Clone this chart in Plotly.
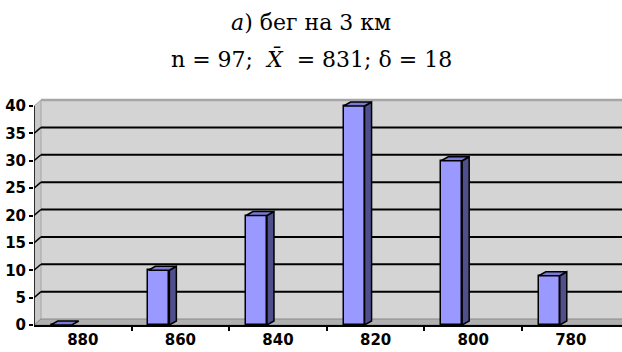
import plotly.graph_objects as go

categories = ["880", "860", "840", "820", "800", "780"]
values = [0, 10, 20, 40, 30, 9]
y_ticks = [0, 5, 10, 15, 20, 25, 30, 35, 40]
title_line1 = "<i>а</i>) бег на 3 км"
title_line2 = "n = 97;  <i>X\u0304</i>  = 831; δ = 18"

W, H = 622, 352
L, R, T, B = 34, 0, 97, 27
px_x = 97.6            # pixels per category
px_y = 5.475           # pixels per unit
plot_w = W - L - R
plot_h = H - T - B
x0 = -0.5
x1 = x0 + plot_w / px_x
y0 = 0.0
y1 = plot_h / px_y

dxw, dyw = 7 / px_x, 6 / px_y      # back wall depth
dxb, dyb = 7 / px_x, 4 / px_y      # bar depth
bar_off, bar_w = -0.328, 0.215

FRONT = "#9999ff"
SIDE = "#4f4f8c"
TOP = "#7a7ad6"
SERIF = "DejaVu Serif"
SANS = "DejaVu Sans"

fig = go.Figure()
shapes = []
# back wall
shapes.append(dict(type="rect", xref="x", yref="y", x0=x0 + dxw, x1=x1 + 1, y0=dyw, y1=40 + dyw,
                   fillcolor="#d4d4d4", line=dict(width=0), layer="below"))
# top border of back wall
shapes.append(dict(type="line", xref="x", yref="y", x0=x0 + dxw, x1=x1 + 1, y0=40 + dyw, y1=40 + dyw,
                   line=dict(color="#a6a6a6", width=2.5), layer="below"))
# left side wall
shapes.append(dict(type="path", xref="x", yref="y",
                   path=f"M {x0},{0} L {x0},{40} L {x0+dxw},{40+dyw} L {x0+dxw},{dyw} Z",
                   fillcolor="#c8c8c8", line=dict(color="#a6a6a6", width=1), layer="below"))
# floor
shapes.append(dict(type="path", xref="x", yref="y",
                   path=f"M {x0},{0} L {x1+1},{0} L {x1+1+dxw},{dyw} L {x0+dxw},{dyw} Z",
                   fillcolor="#b0b0b0", line=dict(color="#8a8a8a", width=1), layer="below"))
# gridlines on back wall and side wall
for v in y_ticks[1:-1]:
    shapes.append(dict(type="line", xref="x", yref="y", x0=x0 + dxw, x1=x1 + 1, y0=v + dyw, y1=v + dyw,
                       line=dict(color="black", width=2), layer="below"))
    shapes.append(dict(type="line", xref="x", yref="y", x0=x0, x1=x0 + dxw, y0=v, y1=v + dyw,
                       line=dict(color="black", width=1.5), layer="below"))
# y axis line
shapes.append(dict(type="line", xref="x", yref="y", x0=x0, x1=x0, y0=0, y1=40,
                   line=dict(color="black", width=1.5), layer="above"))

# bar front faces
idx = list(range(len(categories)))
fig.add_trace(go.Bar(x=idx, y=values, width=bar_w, offset=bar_off,
                     marker=dict(color=FRONT, line=dict(color="black", width=1.5)),
                     hoverinfo="skip", showlegend=False))
# side and top faces
for i, v in zip(idx, values):
    l = i + bar_off
    r = l + bar_w
    if v > 0:
        fig.add_trace(go.Scatter(x=[r, r + dxb, r + dxb, r, r], y=[0, dyb, v + dyb, v, 0],
                                 fill="toself", fillcolor=SIDE, mode="lines",
                                 line=dict(color="black", width=1.5), hoverinfo="skip", showlegend=False))
    fig.add_trace(go.Scatter(x=[l, r, r + dxb, l + dxb, l], y=[v, v, v + dyb, v + dyb, v],
                             fill="toself", fillcolor=TOP, mode="lines",
                             line=dict(color="black", width=1.5), hoverinfo="skip", showlegend=False))

def py_to_paper(py):
    return (H - B - py) / plot_h

fig.add_annotation(text=title_line1, xref="paper", yref="paper", x=(W / 2 - L) / plot_w, y=py_to_paper(22),
                   showarrow=False, xanchor="center", yanchor="middle",
                   font=dict(family=SERIF, size=22, color="black"))
fig.add_annotation(text=title_line2, xref="paper", yref="paper", x=(W / 2 - L) / plot_w, y=py_to_paper(59),
                   showarrow=False, xanchor="center", yanchor="middle",
                   font=dict(family=SERIF, size=22, color="black"))

fig.update_layout(
    width=W, height=H, margin=dict(l=L, r=R, t=T, b=B),
    paper_bgcolor="white", plot_bgcolor="white", template="none",
    shapes=shapes, showlegend=False, bargap=0,
    xaxis=dict(range=[x0, x1], tickmode="array", tickvals=idx, ticktext=categories,
               ticks="", showgrid=False, zeroline=False, showline=True, linecolor="black", linewidth=1.5,
               automargin=False, fixedrange=True,
               tickfont=dict(family=SANS, size=15, color="black", weight="bold"),
               minor=dict(tickmode="array", tickvals=[k + 0.5 for k in idx[:-1]], ticks="outside",
                          ticklen=4, tickwidth=1.5, tickcolor="black", showgrid=False)),
    yaxis=dict(range=[y0, y1], tickmode="array", tickvals=y_ticks, ticks="outside", ticklen=4,
               tickwidth=1.5, tickcolor="black", showgrid=False, zeroline=False, showline=False,
               automargin=False, fixedrange=True,
               tickfont=dict(family=SANS, size=15, color="black", weight="bold")),
)

fig.write_html("out.html")
